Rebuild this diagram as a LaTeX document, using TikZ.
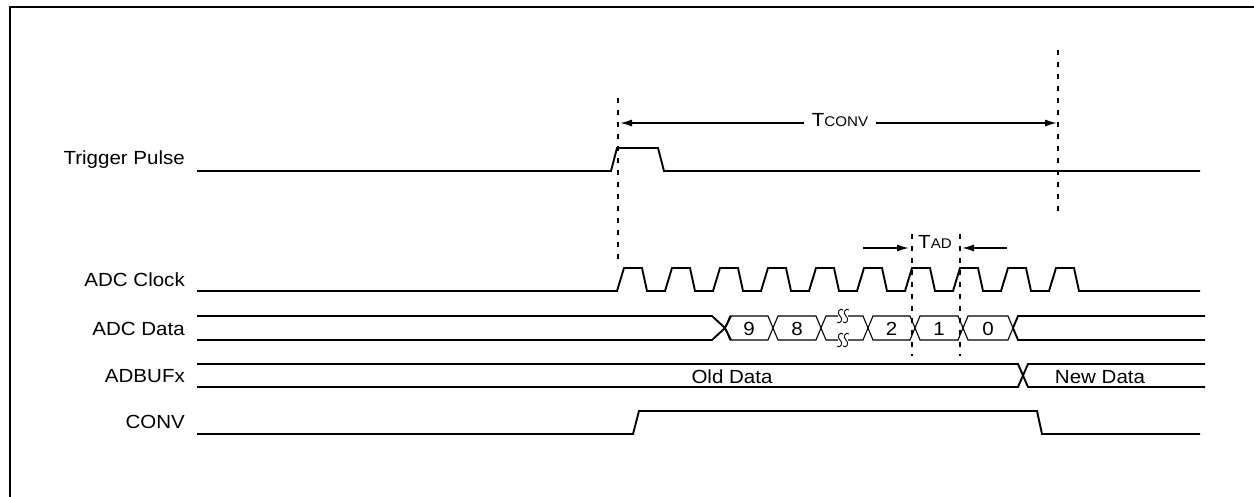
\documentclass[tikz,border=0pt]{standalone}
\usepackage{fontspec}
\setmainfont{Liberation Sans}[FakeStretch=1.08]
\usetikzlibrary{arrows.meta}
\begin{document}
\begin{tikzpicture}[x=1pt,y=-1pt,
  sig/.style={line width=1.9pt, line join=miter},
  cell/.style={line width=1.1pt, line join=miter},
  vdash/.style={line width=1.9pt, dash pattern=on 5pt off 7pt},
  lbl/.style={anchor=base east, inner sep=0pt, font=\fontsize{19}{19}\selectfont},
  txt/.style={anchor=base, inner sep=0pt, font=\fontsize{19}{19}\selectfont},
  dim/.style={line width=1.5pt, -{Latex[length=12pt,width=7pt]}},
  squig/.style={line width=0.9pt}]
\useasboundingbox (0,0) rectangle (1254,497);
\draw[line width=2.5pt] (10,497) -- (10,7) -- (1254,7);

% labels
\node[lbl] (ltrig) at (185,165) {Trigger Pulse};
\node[lbl] (lclk)  at (185,287) {ADC Clock};
\node[lbl] (ldata) at (185,335) {ADC Data};
\node[lbl] (lbuf)  at (185,382.5) {ADBUFx};
\node[lbl] (lconv) at (185,428) {CONV};

% trigger pulse
\draw[sig] (197,171) -- (611,171) -- (617,148) -- (658,148) -- (664,171) -- (1200,171);

% ADC clock
\draw[sig] (197,291) \foreach \k in {0,...,9} {
  -- ({617+48*\k},291) -- ({624+48*\k},268) -- ({642+48*\k},268) -- ({647+48*\k},291) }
  -- (1200,291);

% ADC data: old data lines
\draw[sig] (197,316) -- (712,316) -- (725,328) -- (731,340);
\draw[sig] (197,340) -- (712,340) -- (725,328) -- (731,316);
% cells
\foreach \a/\b/\v in {725/773/9, 773/821/8, 868/915/2, 915/963/1, 963/1013/0} {
  \draw[cell] (\a,328) -- ({\a+5},316) -- ({\b-5},316) -- (\b,328) -- ({\b-5},340) -- ({\a+5},340) -- cycle;
  \node[txt] (d\v) at ({(\a+\b)/2},335) {\v};
}
% break cell
\draw[cell] (838,316) -- (826,316) -- (821,328) -- (826,340) -- (838,340);
\draw[cell] (848,316) -- (863,316) -- (868,328) -- (863,340) -- (848,340);
\foreach \y in {316,340} {
  \foreach \x in {840,846} {
    \draw[squig] ({\x+3},{\y-6}) .. controls ({\x},{\y-9}) and ({\x-4},{\y-3}) .. (\x,\y)
      .. controls ({\x+4},{\y+3}) and ({\x},{\y+9}) .. ({\x-3},{\y+6});
  }
}
% new data
\draw[sig] (1013,328) -- (1018,316) -- (1205,316);
\draw[sig] (1013,328) -- (1018,340) -- (1205,340);

% ADBUFx
\draw[sig] (197,364) -- (1018,364) -- (1028,387) -- (1205,387);
\draw[sig] (197,387) -- (1018,387) -- (1028,364) -- (1205,364);
\node[txt] (old) at (732,383) {Old Data};
\node[txt] (new) at (1100,383) {New Data};

% CONV
\draw[sig] (197,434) -- (633,434) -- (639,411) -- (1037,411) -- (1042,434) -- (1200,434);

% dashed guides
\draw[vdash] (618,98) -- (618,266);
\draw[vdash] (1058,50) -- (1058,216);
\draw[vdash] (912,234) -- (912,356);
\draw[vdash] (960,234) -- (960,356);

% TCONV
\node[anchor=base, inner ysep=0pt, inner xsep=8pt] (tconv) at (840,127)
  {\fontsize{19}{19}\selectfont T\fontsize{14}{14}\selectfont CONV};
\coordinate (cl) at (620,123);
\coordinate (cr) at (1057,123);
\draw[dim] (tconv.west |- cl) -- (cl);
\draw[dim] (tconv.east |- cr) -- (cr);

% TAD
\node[anchor=base, inner sep=0pt] (tad) at (935,249)
  {\fontsize{19}{19}\selectfont T\fontsize{14}{14}\selectfont AD};
\coordinate (a1s) at (863,248);
\coordinate (a1e) at (909,248);
\coordinate (a2s) at (1007,248);
\coordinate (a2e) at (962,248);
\draw[dim] (a1s) -- (a1e);
\draw[dim] (a2s) -- (a2e);
\end{tikzpicture}
\end{document}
